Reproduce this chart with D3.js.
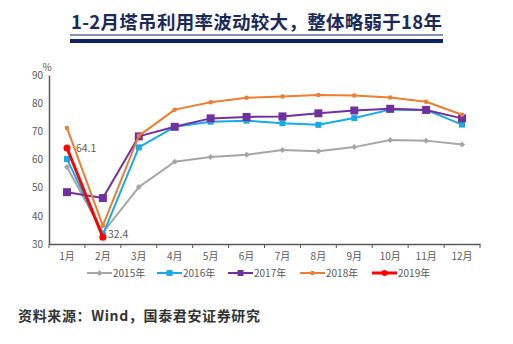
<!DOCTYPE html>
<html><head><meta charset="utf-8">
<script src="https://cdn.jsdelivr.net/npm/d3@7"></script>
<style>body{margin:0;background:#fff;} svg{display:block;}</style>
</head><body>
<svg id="c" width="513" height="344"></svg>
<script>
const months = ["1月","2月","3月","4月","5月","6月","7月","8月","9月","10月","11月","12月"];
const s2015 = [57.3,34.0,50.2,59.2,60.9,61.7,63.4,62.9,64.4,66.9,66.7,65.3];
const s2016 = [60.2,33.3,64.3,71.6,73.4,73.8,72.9,72.3,74.7,77.7,77.6,72.4];
const s2017 = [48.4,46.3,68.2,71.6,74.6,75.1,75.3,76.4,77.4,78.0,77.6,74.6];
const s2018 = [71.2,36.5,68.4,77.7,80.3,81.9,82.4,82.9,82.7,82.0,80.5,75.9];
const s2019 = [64.1,32.4];
const yTicks = [30,40,50,60,70,80,90];
const title = "1-2月塔吊利用率波动较大，整体略弱于18年";
const source = "资料来源：Wind，国泰君安证券研究";

const series = [
  {name:"2015年", values:s2015, color:"#a6a6a6", marker:"diamond", size:5, width:2},
  {name:"2016年", values:s2016, color:"#19a9e6", marker:"square", size:6, width:2},
  {name:"2017年", values:s2017, color:"#7030a0", marker:"square", size:8, width:2},
  {name:"2018年", values:s2018, color:"#ed7d31", marker:"circle", size:4.5, width:2},
  {name:"2019年", values:s2019, color:"#ff0000", marker:"circle", size:7, width:3}
];

const svg = d3.select("#c");
const font = "'Noto Sans CJK SC','Microsoft YaHei',sans-serif";

// Title
svg.append("text").attr("x",71).attr("y",29)
  .attr("font-family",font).attr("font-weight","bold").attr("font-size",18.5)
  .attr("textLength",371).attr("lengthAdjust","spacing")
  .attr("fill","#1b2a5a").text(title);
svg.append("line").attr("x1",70).attr("x2",443).attr("y1",35).attr("y2",35)
  .attr("stroke","#0d2463").attr("stroke-width",1);
svg.append("rect").attr("x",70).attr("y",39).attr("width",373).attr("height",4).attr("fill","#0d2463");

const x = d3.scaleBand().domain(months).range([49,480]);
const y = d3.scaleLinear().domain([30,90]).range([244,75]);

// axes
const gx = svg.append("g").attr("transform","translate(0,244)")
  .call(d3.axisBottom(x).tickSize(0).tickPadding(9));
gx.select(".domain").attr("stroke","#595959").attr("stroke-width",1.5);
gx.selectAll("text").attr("font-family",font).attr("font-size",10).attr("fill","#595959");
const bounds = months.map(m=>x(m)).concat([x.range()[1]]);
svg.append("g").selectAll("line").data(bounds).join("line")
  .attr("x1",d=>d).attr("x2",d=>d).attr("y1",244).attr("y2",248)
  .attr("stroke","#595959").attr("stroke-width",1);

const gy = svg.append("g").attr("transform","translate(49,0)")
  .call(d3.axisLeft(y).tickValues(yTicks).tickSize(0).tickPadding(6));
gy.select(".domain").attr("stroke","#595959").attr("stroke-width",1.5);
gy.selectAll("text").attr("font-family",font).attr("font-size",10).attr("fill","#595959");
svg.append("text").attr("x",42.5).attr("y",71).attr("font-family",font).attr("font-size",10)
  .attr("fill","#595959").text("%");

const cx = (d,i)=>x(months[i])+x.bandwidth()/2;
const line = d3.line().x((d,i)=>cx(d,i)).y(d=>y(d));

function drawMarker(g, s, px, py){
  if(s.marker==="circle"){
    g.append("circle").attr("cx",px).attr("cy",py).attr("r",s.size/2).attr("fill",s.color);
  } else if(s.marker==="square"){
    g.append("rect").attr("x",px-s.size/2).attr("y",py-s.size/2).attr("width",s.size).attr("height",s.size).attr("fill",s.color);
  } else {
    const r=s.size/2+0.5;
    g.append("path").attr("d",`M${px},${py-r}L${px+r},${py}L${px},${py+r}L${px-r},${py}Z`).attr("fill",s.color);
  }
}

series.forEach(s=>{
  const g = svg.append("g");
  g.append("path").datum(s.values).attr("d",line).attr("fill","none")
    .attr("stroke",s.color).attr("stroke-width",s.width).attr("stroke-linejoin","round");
  s.values.forEach((v,i)=>drawMarker(g,s,cx(v,i),y(v)));
});

// data labels
svg.append("text").attr("x",cx(0,0)+9).attr("y",y(s2019[0])+4).attr("font-family",font)
  .attr("font-size",10.5).attr("fill","#595959").text(s2019[0].toFixed(1));
svg.append("text").attr("x",cx(0,1)+5).attr("y",y(s2019[1])+1).attr("font-family",font)
  .attr("font-size",10.5).attr("fill","#595959").text(s2019[1].toFixed(1));

// legend
const legX = [87,157,228,300,372];
const lg = svg.append("g");
series.forEach((s,i)=>{
  const lx = legX[i], ly = 273;
  lg.append("line").attr("x1",lx).attr("x2",lx+25).attr("y1",ly).attr("y2",ly)
    .attr("stroke",s.color).attr("stroke-width",s.width);
  drawMarker(lg, {...s, size: Math.min(s.size,6)}, lx+12.5, ly);
  lg.append("text").attr("x",lx+26).attr("y",ly+4).attr("font-family",font)
    .attr("font-size",10).attr("fill","#595959").text(s.name);
});

svg.append("text").attr("x",18).attr("y",321).attr("font-family",font).attr("font-weight","bold")
  .attr("font-size",14).attr("textLength",242).attr("lengthAdjust","spacing")
  .attr("fill","#333").text(source);
</script>
</body></html>
